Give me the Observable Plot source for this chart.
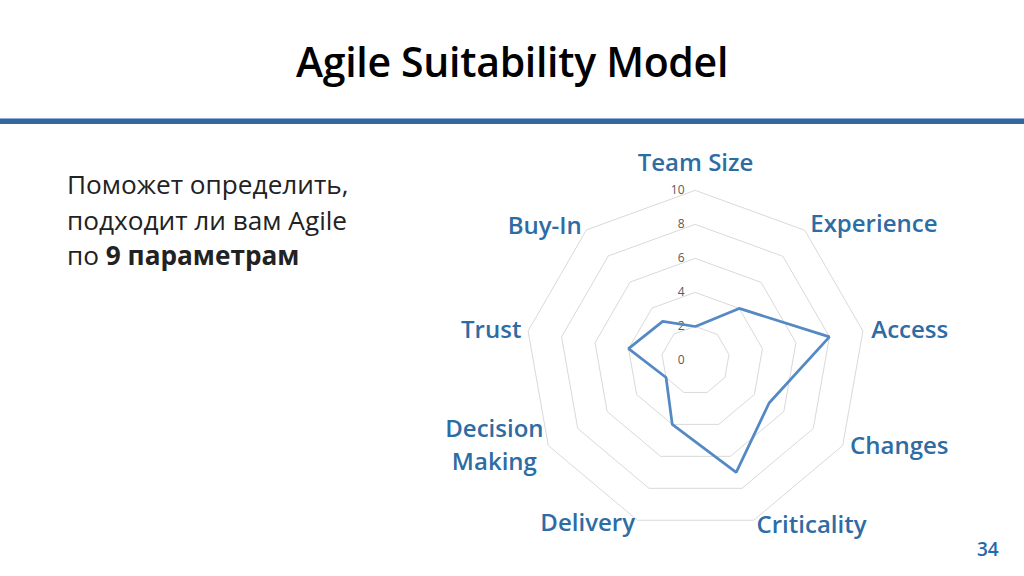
<!DOCTYPE html>
<html><head><meta charset="utf-8">
<script src="https://cdn.jsdelivr.net/npm/d3@7"></script>
<script src="https://cdn.jsdelivr.net/npm/@observablehq/plot@0.6"></script>
<style>
html,body{margin:0;padding:0;background:#fff;}
body{width:1024px;height:576px;position:relative;overflow:hidden;font-family:"Open Sans","Noto Sans",sans-serif;}
#title{position:absolute;left:0;width:1024px;top:33px;text-align:center;font-size:41px;font-weight:600;color:#000;letter-spacing:-0.3px;line-height:56px;}
#rule{position:absolute;left:0;top:118px;width:1024px;height:6px;background:#35679c;border-top:1px solid #8fb0d2;box-sizing:border-box;}
#lead{position:absolute;left:67px;top:167px;font-size:26.2px;line-height:35.5px;color:#222;}
#lead b{font-weight:700;}
#chart{position:absolute;left:395px;top:150px;}
#page{position:absolute;left:977px;top:536px;font-size:19px;font-weight:600;color:#1f6aae;}
svg{overflow:visible;}
</style></head>
<body>
<div id="title">Agile Suitability Model</div>
<div id="rule"></div>
<div id="lead">Поможет определить,<br>подходит ли вам Agile<br>по <b>9 параметрам</b></div>
<div id="chart"></div>
<div id="page">34</div>
<script>
const categories = ["Team Size","Experience","Access","Changes","Criticality","Delivery","Decision\nMaking","Trust","Buy-In"];
const values = [2,4,8,5,7,4,2,4,3];
const ticks = [0,2,4,6,8,10];
const gridLevels = [2,4,6,8,10];

const n = categories.length;
const ang = i => 2*Math.PI*i/n;
const px = (v,i) => v*Math.sin(ang(i));
const py = (v,i) => v*Math.cos(ang(i));

const W = 600, H = 420, cx = 300, cy = 210, unit = 17;

const rings = gridLevels.flatMap(l => categories.map((c,i) => ({level:l, x:px(l,i), y:py(l,i)})));
const series = values.map((v,i) => ({cat:categories[i], x:px(v,i), y:py(v,i)}));
const labels = categories.map((c,i) => {
  const s = Math.sin(ang(i)), co = Math.cos(ang(i));
  const r = Math.abs(s) < 0.1 ? 11.6 : (s < 0 ? 10.4 : 10.5);
  const lift = co > 0.9 ? 3 : (co < -0.3 ? 6 : 2);
  const multi = c.includes("\n");
  return {text:c, x:px(r,i), y:py(r,i) + lift/unit,
    anchor: multi ? "multi" : (s > 0.1 ? "start" : (s < -0.1 ? "end" : "middle"))};
});
const tickData = ticks.map(t => ({t, x:0, y:t}));

const labelStyle = {x:"x", y:"y", text:"text", fill:"#2e6ca4", fontSize:24, fontWeight:600, lineHeight:1.38};

const chart = Plot.plot({
  width: W, height: H,
  margin: 0,
  x: {domain:[-cx/unit,(W-cx)/unit], axis:null},
  y: {domain:[-(H-cy)/unit, cy/unit], axis:null},
  style: {fontFamily:"'Open Sans','Noto Sans',sans-serif", background:"transparent"},
  marks: [
    Plot.line(rings, {x:"x", y:"y", z:"level", curve:"linear-closed", stroke:"#d9d9d9", strokeWidth:1}),
    Plot.text(tickData, {x:"x", y:"y", text:d => String(d.t), textAnchor:"end", dx:-11, fill:"#595959", fontSize:12}),
    Plot.line(series, {x:"x", y:"y", curve:"linear-closed", stroke:"#5489c3", strokeWidth:2.75, strokeLinejoin:"miter"}),
    ...["start","middle","end"].map(a => Plot.text(labels.filter(d => d.anchor === a), {...labelStyle, textAnchor:a})),
    Plot.text(labels.filter(d => d.anchor === "multi"), {...labelStyle, textAnchor:"middle", dx:-48})
  ]
});
document.getElementById("chart").appendChild(chart);
</script>
</body></html>
